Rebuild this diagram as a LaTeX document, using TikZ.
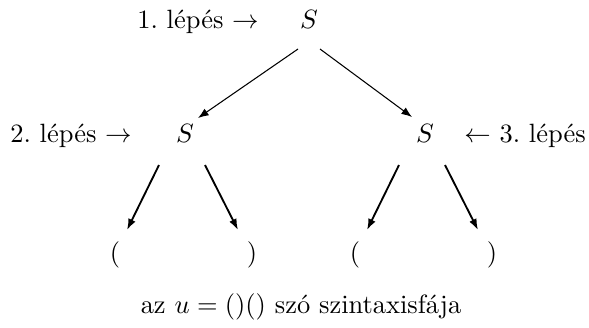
\documentclass[tikz,border=0pt]{standalone}
\usepackage{fontspec}
\usetikzlibrary{arrows.meta,calc}
\begin{document}
\begin{tikzpicture}[x=0.378pt,y=-0.378pt,
  lbl/.style={anchor=base,inner sep=0pt},
  thinarr/.style={line width=0.4pt,-{Latex[length=4pt,width=3pt]}},
  thickarr/.style={line width=0.7pt,-{Latex[length=4.2pt,width=3pt]}}]
\useasboundingbox (0,0) rectangle (589,327);
\node[lbl] (top) at (309,28) {$S$};
\node[lbl] (l) at (185,142) {$S$};
\node[lbl] (r) at (425,142) {$S$};
\node[lbl] (ll) at (115,261) {$($};
\node[lbl] (lr) at (252,261) {$)$};
\node[lbl] (rl) at (355,261) {$($};
\node[lbl] (rr) at (492,261) {$)$};
\node[lbl] (s1) at (198,28) {1.\ lépés $\rightarrow$};
\node[lbl] (s2) at (71,142) {2.\ lépés $\rightarrow$};
\node[lbl] (s3) at (525,142) {$\leftarrow$ 3.\ lépés};
\node[lbl] (cap) at (301,313) {az $u=()()$ szó szintaxisfája};
\draw[thinarr] ($(top.base)+(-11,21)$) -- ($(l.base)+(13,-24)$);
\draw[thinarr] ($(top.base)+(11,21)$) -- ($(r.base)+(-13,-25)$);
\draw[thickarr] ($(l.base)+(-26,23)$) -- ($(ll.base)+(12,-31)$);
\draw[thickarr] ($(l.base)+(20,23)$) -- ($(lr.base)+(-14,-31)$);
\draw[thickarr] ($(r.base)+(-26,23)$) -- ($(rl.base)+(12,-31)$);
\draw[thickarr] ($(r.base)+(20,23)$) -- ($(rr.base)+(-14,-31)$);
\end{tikzpicture}
\end{document}
